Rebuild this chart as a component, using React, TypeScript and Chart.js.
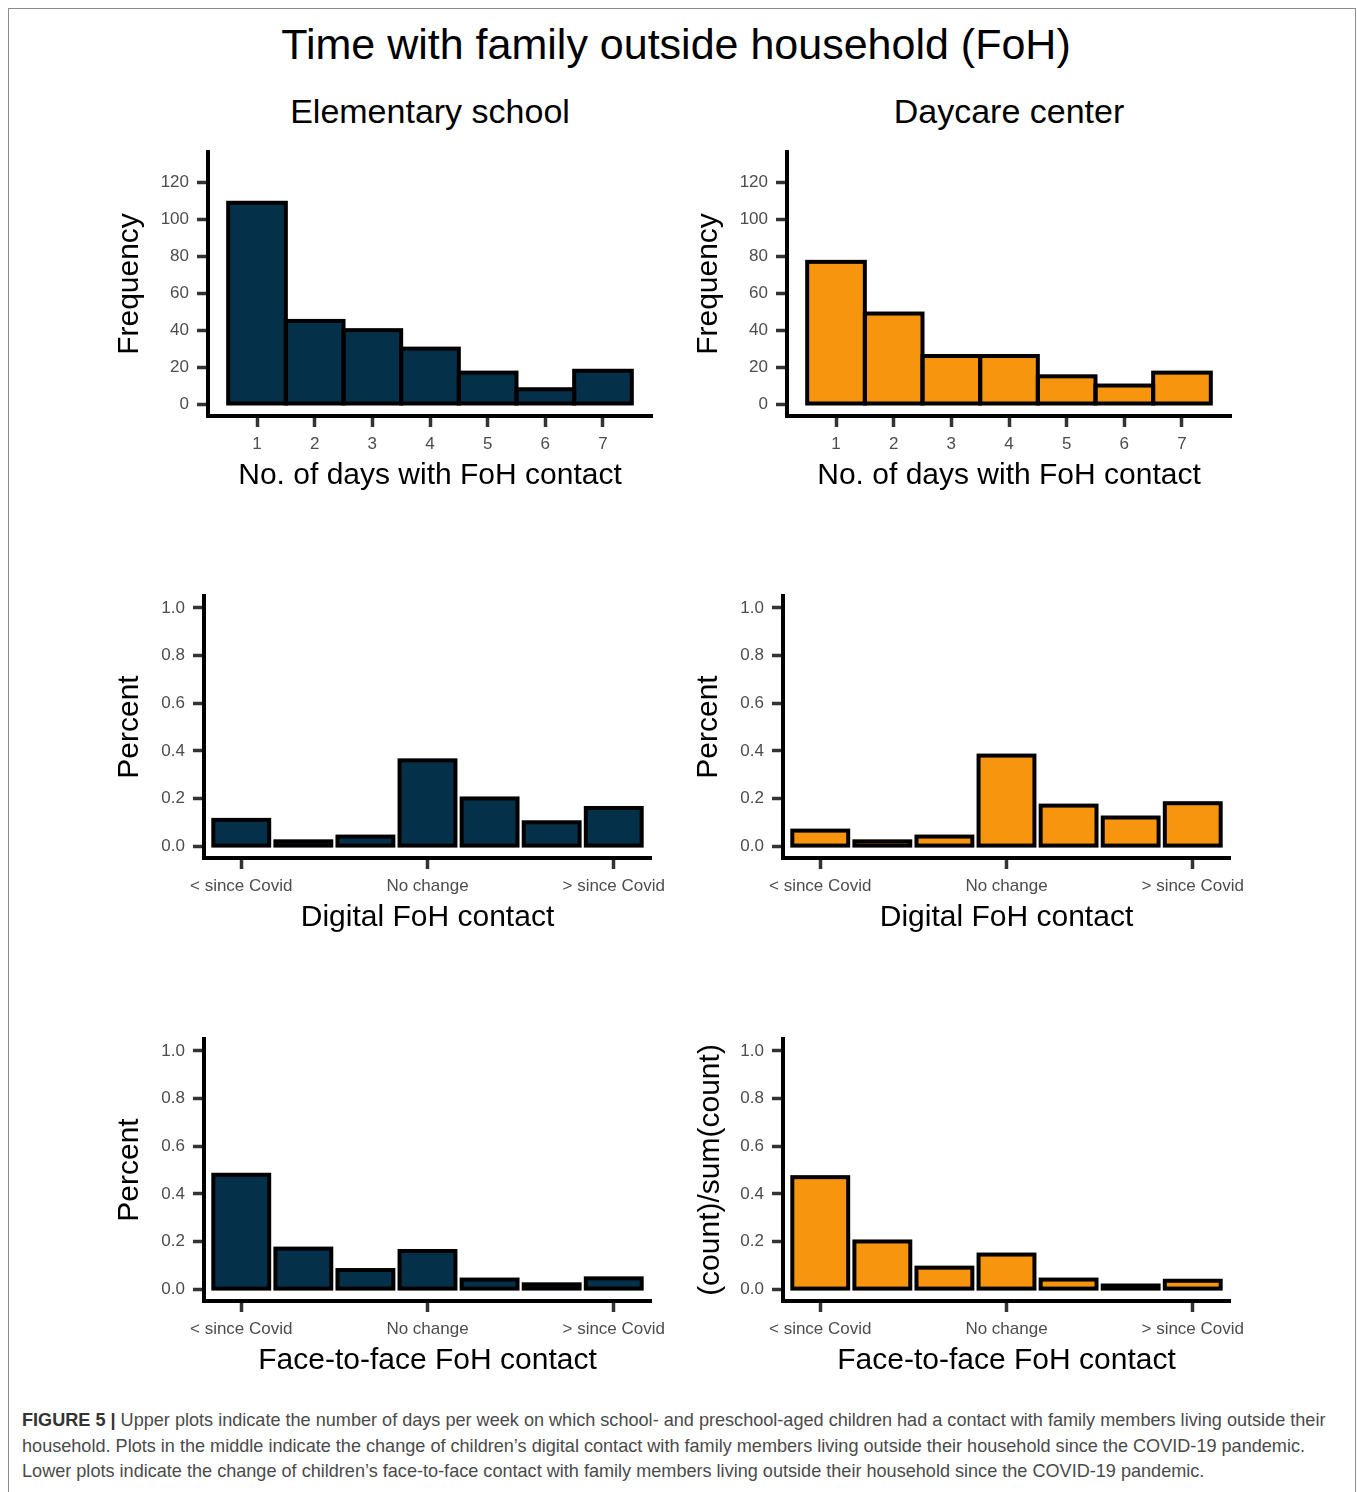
import React, { useEffect, useRef } from "react";
import { Chart, registerables } from "chart.js";

Chart.register(...registerables);
Chart.defaults.font.family = "'Liberation Sans', Arial, Helvetica, sans-serif";

// ---------- data ----------
const DAY_CATEGORIES = [1, 2, 3, 4, 5, 6, 7];
const DAY_TICK_LABELS = ["1", "2", "3", "4", "5", "6", "7"];
const CHANGE_CATEGORIES = [1, 2, 3, 4, 5, 6, 7];
const CHANGE_TICK_POSITIONS = [1, 4, 7];
const CHANGE_TICK_LABELS = ["< since Covid", "No change", "> since Covid"];
const FREQ_TICKS = [0, 20, 40, 60, 80, 100, 120];
const PCT_TICKS = [0, 0.2, 0.4, 0.6, 0.8, 1.0];

const elemDays = [109, 45, 40, 30, 17, 8, 18];
const daycareDays = [77, 49, 26, 26, 15, 10, 17];
const elemDigital = [0.11, 0.02, 0.04, 0.36, 0.2, 0.1, 0.16];
const daycareDigital = [0.065, 0.02, 0.04, 0.38, 0.17, 0.12, 0.18];
const elemFace = [0.48, 0.17, 0.08, 0.16, 0.04, 0.02, 0.045];
const daycareFace = [0.47, 0.2, 0.09, 0.145, 0.04, 0.015, 0.035];

// ---------- styles ----------
const NAVY = "#05304a";
const ORANGE = "#f7950f";
const FONT = "'Liberation Sans', Arial, Helvetica, sans-serif";

const PAD_TOP = 22;
const PAD_RIGHT = 30;
const X_AXIS_H = 78;
const TITLE_SIZE = 30;
const TITLE_LH = TITLE_SIZE * 1.2;
const OUTLINE_W = 4;

// Draws each bar's outline centred on the bar's edges (as ggplot does),
// using the geometry computed by Chart.js for the bar elements.
const centeredOutline = {
  id: "centeredOutline",
  afterDatasetsDraw(chart: any) {
    const ctx = chart.ctx;
    ctx.save();
    ctx.lineWidth = OUTLINE_W;
    ctx.strokeStyle = "#000000";
    ctx.lineJoin = "miter";
    chart.data.datasets.forEach((_d: any, di: number) => {
      const meta = chart.getDatasetMeta(di);
      meta.data.forEach((el: any) => {
        const { x, y, base, width } = el.getProps(["x", "y", "base", "width"], true);
        const top = Math.min(y, base);
        const h = Math.abs(base - y);
        ctx.strokeRect(x - width / 2, top, width, h);
      });
    });
    ctx.restore();
  },
};

type PanelProps = {
  left: number;
  right: number;
  top: number;
  bottom: number;
  yTitleX: number;
  xs: number[];
  ys: number[];
  color: string;
  xMin: number;
  xMax: number;
  xTicks: number[];
  xLabels: string[];
  yMin: number;
  yMax: number;
  yTicks: number[];
  yDecimals: number;
  xTitle: string;
  yTitle: string;
  barPct: number;
};

function Panel(p: PanelProps) {
  const ref = useRef<HTMLCanvasElement | null>(null);
  const cl = p.yTitleX - TITLE_LH / 2;
  const ct = p.top - PAD_TOP;
  const cw = p.right + PAD_RIGHT - cl;
  const ch = p.bottom + X_AXIS_H - ct;
  const yW = p.left - cl;

  useEffect(() => {
    if (!ref.current) return;
    const chart = new Chart(ref.current, {
      type: "bar",
      data: {
        datasets: [
          {
            data: p.xs.map((x, i) => ({ x, y: p.ys[i] })),
            backgroundColor: p.color,
            borderWidth: 0,
            inflateAmount: 0,
            barPercentage: p.barPct,
            categoryPercentage: 1,
          } as any,
        ],
      },
      plugins: [centeredOutline],
      options: {
        animation: false,
        responsive: false,
        maintainAspectRatio: false,
        layout: { padding: { top: PAD_TOP, right: PAD_RIGHT, left: 0, bottom: 0 } },
        plugins: {
          legend: { display: false },
          tooltip: { enabled: false },
          title: { display: false },
        },
        scales: {
          x: {
            type: "linear",
            min: p.xMin,
            max: p.xMax,
            offset: false,
            grid: {
              offset: false,
              drawOnChartArea: false,
              drawTicks: true,
              tickLength: 11,
              tickWidth: 3.5,
              tickColor: "#333333",
              color: "rgba(0,0,0,0)",
            },
            border: { display: true, color: "#000000", width: 4 },
            ticks: {
              autoSkip: false,
              maxRotation: 0,
              minRotation: 0,
              padding: 7,
              color: "#4d4d4d",
              font: { size: 17 },
              callback: (_v: any, i: number) => p.xLabels[i],
            },
            afterBuildTicks: (s: any) => {
              s.ticks = p.xTicks.map((v) => ({ value: v }));
            },
            afterFit: (s: any) => {
              s.height = X_AXIS_H;
            },
            title: {
              display: true,
              text: p.xTitle,
              color: "#000000",
              font: { size: TITLE_SIZE },
              padding: 0,
            },
          } as any,
          y: {
            type: "linear",
            min: p.yMin,
            max: p.yMax,
            grid: {
              drawOnChartArea: false,
              drawTicks: true,
              tickLength: 11,
              tickWidth: 3.5,
              tickColor: "#333333",
              color: "rgba(0,0,0,0)",
            },
            border: { display: true, color: "#000000", width: 4 },
            ticks: {
              autoSkip: false,
              padding: 8,
              color: "#4d4d4d",
              font: { size: 17 },
              callback: (v: any) => Number(v).toFixed(p.yDecimals),
            },
            afterBuildTicks: (s: any) => {
              s.ticks = p.yTicks.map((v) => ({ value: v }));
            },
            afterFit: (s: any) => {
              s.width = yW;
            },
            title: {
              display: true,
              text: p.yTitle,
              color: "#000000",
              font: { size: TITLE_SIZE },
              padding: 0,
            },
          } as any,
        },
      },
    });
    return () => chart.destroy();
  }, []);

  return (
    <canvas
      ref={ref}
      width={cw}
      height={ch}
      style={{ position: "absolute", left: cl, top: ct, width: cw, height: ch }}
    />
  );
}

const textBase: React.CSSProperties = {
  position: "absolute",
  fontFamily: FONT,
  color: "#000",
  whiteSpace: "nowrap",
  lineHeight: 1,
};

export default function App() {
  const dayCommon = {
    xs: DAY_CATEGORIES,
    xMin: 0.15,
    xMax: 7.85,
    xTicks: DAY_CATEGORIES,
    xLabels: DAY_TICK_LABELS,
    yMin: -6.5,
    yMax: 136.5,
    yTicks: FREQ_TICKS,
    yDecimals: 0,
    xTitle: "No. of days with FoH contact",
    yTitle: "Frequency",
    barPct: 1,
  };
  const changeCommon = {
    xs: CHANGE_CATEGORIES,
    xMin: 0.4,
    xMax: 7.6,
    xTicks: CHANGE_TICK_POSITIONS,
    xLabels: CHANGE_TICK_LABELS,
    yMin: -0.05,
    yMax: 1.05,
    yTicks: PCT_TICKS,
    yDecimals: 1,
    barPct: 0.9,
  };

  return (
    <div style={{ position: "absolute", left: 0, top: 0, width: 1357, height: 1492, overflow: "hidden", background: "#fff" }}>
      <div
        style={{
          position: "absolute",
          left: 8,
          top: 8,
          width: 1348,
          height: 1500,
          boxSizing: "border-box",
          border: "1px solid #8c8c8c",
        }}
      />
      <div style={{ ...textBase, left: 0, width: 1352, textAlign: "center", top: 23, fontSize: 43 }}>
        Time with family outside household (FoH)
      </div>
      <div style={{ ...textBase, left: 230, width: 400, textAlign: "center", top: 94, fontSize: 34 }}>
        Elementary school
      </div>
      <div style={{ ...textBase, left: 809, width: 400, textAlign: "center", top: 94, fontSize: 34 }}>
        Daycare center
      </div>

      <Panel {...dayCommon} left={208} right={652} top={152} bottom={416} yTitleX={130} ys={elemDays} color={NAVY} />
      <Panel {...dayCommon} left={787} right={1231} top={152} bottom={416} yTitleX={709} ys={daycareDays} color={ORANGE} />

      <Panel {...changeCommon} left={204} right={651} top={596} bottom={858} yTitleX={130} ys={elemDigital} color={NAVY} xTitle="Digital FoH contact" yTitle="Percent" />
      <Panel {...changeCommon} left={783} right={1230} top={596} bottom={858} yTitleX={709} ys={daycareDigital} color={ORANGE} xTitle="Digital FoH contact" yTitle="Percent" />

      <Panel {...changeCommon} left={204} right={651} top={1039} bottom={1301} yTitleX={130} ys={elemFace} color={NAVY} xTitle="Face-to-face FoH contact" yTitle="Percent" />
      <Panel {...changeCommon} left={783} right={1230} top={1039} bottom={1301} yTitleX={711} ys={daycareFace} color={ORANGE} xTitle="Face-to-face FoH contact" yTitle="(count)/sum(count)" />

      <div
        style={{
          position: "absolute",
          left: 22,
          top: 1408,
          fontFamily: FONT,
          fontSize: 18.1,
          lineHeight: "25.5px",
          color: "#4a4a4a",
          whiteSpace: "nowrap",
        }}
      >
        <div>
          <b style={{ color: "#333" }}>FIGURE 5 |</b> Upper plots indicate the number of days per week on which school- and preschool-aged children had a contact with family members living outside their
        </div>
        <div>
          household. Plots in the middle indicate the change of children’s digital contact with family members living outside their household since the COVID-19 pandemic.
        </div>
        <div>
          Lower plots indicate the change of children’s face-to-face contact with family members living outside their household since the COVID-19 pandemic.
        </div>
      </div>
    </div>
  );
}
